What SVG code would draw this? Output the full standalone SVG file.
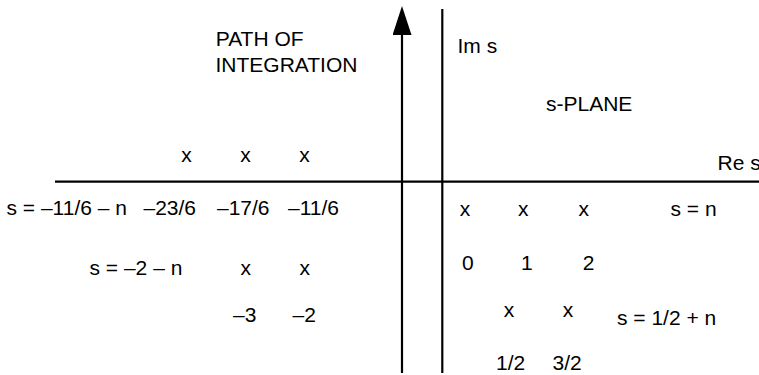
<svg xmlns="http://www.w3.org/2000/svg" width="759" height="375" viewBox="0 0 759 375">
  <style>
    .t { font-family: "Liberation Sans", Arial, Helvetica, sans-serif; font-size: 21px; fill: #000; }
    .m { text-anchor: middle; }
    .ax { stroke: #000; stroke-width: 2.2; fill: none; }
  </style>
  <defs>
    <marker id="arrow" markerUnits="userSpaceOnUse" viewBox="0 0 29 19" markerWidth="29" markerHeight="19" refX="23" refY="9.5" orient="auto">
      <path d="M0,0 L29,9.5 L0,19 z" fill="#000"/>
    </marker>
  </defs>
  <rect width="759" height="375" fill="#fff"/>

  <g id="connectors">
    <line id="re-axis" class="ax" x1="55" y1="181.7" x2="759" y2="181.7"/>
    <line id="im-axis" class="ax" x1="442.3" y1="9" x2="442.3" y2="373"/>
    <line id="path-of-integration" class="ax" x1="402" y1="373" x2="402" y2="12" marker-end="url(#arrow)"/>
  </g>

  <g id="label-path">
    <text class="t" x="215.7" y="46">PATH OF</text>
    <text class="t" x="215.5" y="72">INTEGRATION</text>
  </g>
  <g id="label-im"><text class="t" x="457.5" y="53">Im s</text></g>
  <g id="label-plane"><text class="t" x="546" y="111">s-PLANE</text></g>
  <g id="label-re"><text class="t" x="717.5" y="170">Re s</text></g>

  <g id="poles-minus-11-6">
    <text class="t m" x="186.5" y="162">x</text>
    <text class="t m" x="245.5" y="162">x</text>
    <text class="t m" x="304.5" y="162">x</text>
    <text class="t" x="6.5" y="215">s = –11/6 – n</text>
    <text class="t" x="143.5" y="215">–23/6</text>
    <text class="t" x="217" y="215">–17/6</text>
    <text class="t" x="288" y="215">–11/6</text>
  </g>

  <g id="poles-minus-2">
    <text class="t" x="89.5" y="275">s = –2 – n</text>
    <text class="t m" x="245.7" y="275">x</text>
    <text class="t m" x="304.7" y="275">x</text>
    <text class="t" x="233" y="322">–3</text>
    <text class="t" x="292.5" y="322">–2</text>
  </g>

  <g id="poles-n">
    <text class="t m" x="465" y="216">x</text>
    <text class="t m" x="523.3" y="216">x</text>
    <text class="t m" x="583.8" y="216">x</text>
    <text class="t" x="670.5" y="216">s = n</text>
    <text class="t" x="462" y="270">0</text>
    <text class="t" x="521" y="270">1</text>
    <text class="t" x="582.7" y="270">2</text>
  </g>

  <g id="poles-half-n">
    <text class="t m" x="509" y="317">x</text>
    <text class="t m" x="568" y="317">x</text>
    <text class="t" x="617" y="325">s = 1/2 + n</text>
    <text class="t" x="496" y="370">1/2</text>
    <text class="t" x="552.5" y="370">3/2</text>
  </g>
</svg>
